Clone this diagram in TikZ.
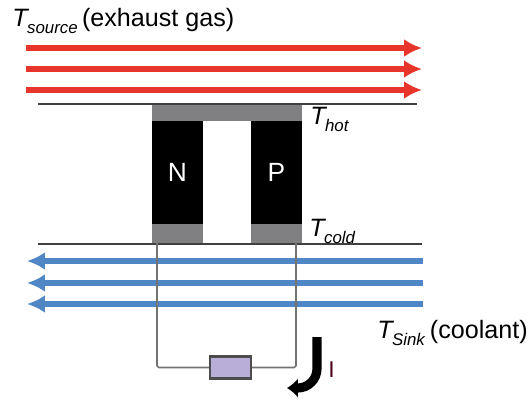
\documentclass[tikz,border=0pt]{standalone}
\usepackage{fontspec}
\setmainfont{Liberation Sans}
\usepackage{tikz}
\usetikzlibrary{arrows.meta,positioning}
\definecolor{hotred}{HTML}{E8352B}
\definecolor{coldblue}{HTML}{4F86C6}
\definecolor{padgray}{HTML}{808082}
\definecolor{loadfill}{HTML}{B9AED8}
\newcommand{\tsub}[1]{\textit{T}\kern-1.2pt\raisebox{-0.55ex}{\fontsize{9.6}{12}\selectfont\textit{#1}}}

\begin{document}
\begin{tikzpicture}[
    x=0.02cm, y=-0.02cm,
    leg/.style={draw=none, fill=black, text=white, minimum width=1.02cm,
      minimum height=2.06cm, inner sep=0pt, font=\fontsize{15}{17}\selectfont},
    pad/.style={draw=none, fill=padgray, inner sep=0pt},
    plate/.style={draw=black!75, line width=0.9pt},
    hotarrow/.style={-{Latex[length=3.6mm,width=3.6mm]}, line width=3.6pt, draw=hotred},
    coldarrow/.style={-{Latex[length=3.6mm,width=3.6mm]}, line width=3.5pt, draw=coldblue},
    wire/.style={draw=black!55, line width=0.9pt, rounded corners=1pt},
    lbl/.style={inner sep=0pt, anchor=base west, font=\fontsize{14.3}{16}\selectfont}
  ]
    \useasboundingbox (0,0) rectangle (529,400);
    % heat flows
    \foreach \name/\ypos in {a/48, b/69, c/90} {
      \coordinate (hot\name w) at (26,\ypos);
      \coordinate (hot\name e) at (422,\ypos);
      \draw[hotarrow] (hot\name w) -- (hot\name e);
    }
    \foreach \name/\ypos in {a/261, b/283, c/304} {
      \coordinate (cold\name e) at (423,\ypos);
      \coordinate (cold\name w) at (27,\ypos);
      \draw[coldarrow] (cold\name e) -- (cold\name w);
    }
    % plates
    \coordinate (topl) at (38,104);
    \coordinate (topr) at (417,104);
    \coordinate (botl) at (38,244);
    \coordinate (botr) at (422,244);
    \draw[plate] (topl) -- (topr);
    \draw[plate] (botl) -- (botr);
    % legs and contacts
    \node[leg] (nleg) at (177.5,172.5) {N};
    \node[leg] (pleg) at (276.5,172.5) {P};
    \node[pad, minimum width=3cm, minimum height=0.32cm] (hotpad) at (227,113) {};
    \node[pad, minimum width=1.02cm, minimum height=0.38cm] (ncold) at (177.5,233.5) {};
    \node[pad, minimum width=1.02cm, minimum height=0.38cm] (pcold) at (276.5,233.5) {};
    % circuit
    \node[draw=black!70, line width=1.3pt, fill=loadfill, minimum width=0.82cm,
      minimum height=0.44cm, inner sep=0pt] (load) at (230.5,367.5) {};
    \coordinate (nfoot) at (157,243);
    \coordinate (pfoot) at (296,243);
    \draw[wire] (nfoot) |- (load.west);
    \draw[wire] (pfoot) |- (load.east);
    % current
    \coordinate (itop) at (317,337);
    \coordinate (itip) at (287,388);
    \draw[-{Latex[length=2.2mm,width=4mm]}, line width=5.2pt, draw=black, rounded corners=11pt]
      (itop) |- (itip);
    \node[lbl, font=\fontsize{13}{14}\selectfont, text=black!60!purple] (ilabel) at (328,377) {I};
    % labels
    \node[lbl] (source) at (12,26) {\tsub{source}\kern2.5pt(exhaust gas)};
    \node[lbl] (hot) at (310,124) {\tsub{hot}};
    \node[lbl] (cold) at (309,236) {\tsub{cold}};
    \node[lbl] (sink) at (377,338) {\tsub{Sink}\kern2.5pt(coolant)};
  \end{tikzpicture}
\end{document}
